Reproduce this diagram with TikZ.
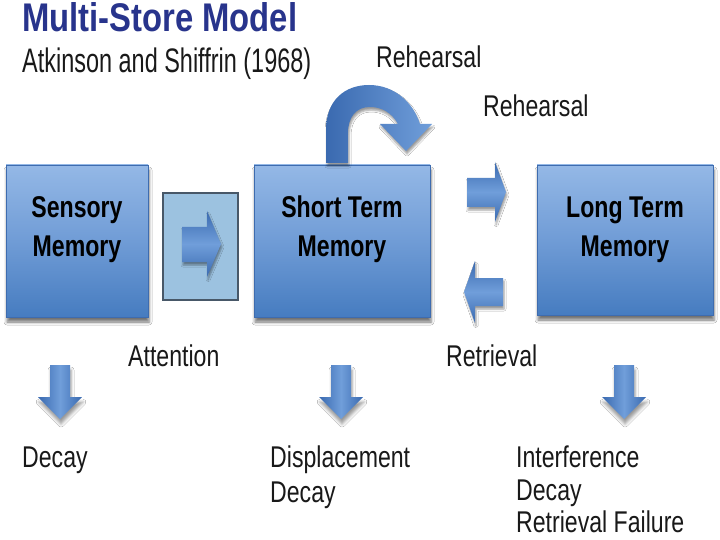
\documentclass[tikz,border=0pt]{standalone}
\usepackage{fontspec}
\setmainfont{Liberation Sans}
\usepackage{graphicx}
\usetikzlibrary{shadows,shadows.blur}
\definecolor{titleblue}{RGB}{40,52,140}
\definecolor{boxtop}{RGB}{148,184,230}
\definecolor{boxmid}{RGB}{112,156,214}
\definecolor{boxbot}{RGB}{70,124,192}
\definecolor{boxedge}{RGB}{62,108,175}
\definecolor{attfill}{RGB}{156,194,224}
\definecolor{attedge}{RGB}{72,88,104}
\definecolor{arrowdark}{RGB}{58,106,176}
\definecolor{arrowlight}{RGB}{112,158,218}
\definecolor{txt}{RGB}{25,25,25}
\newcommand{\nar}[1]{\scalebox{0.77}[1]{#1}}
\tikzset{
  membox/.style={draw=boxedge, line width=0.8pt, top color=boxtop, bottom color=boxbot, middle color=boxmid,
    inner sep=0, blur shadow={shadow xshift=1pt, shadow yshift=-5pt, shadow opacity=55, shadow blur radius=3pt}},
  attbox/.style={draw=attedge, line width=1.4pt, fill=attfill, inner sep=0},
  boxlbl/.style={anchor=base, inner sep=0, text=black, font=\bfseries\fontsize{30}{38.5}\selectfont},
  lbl/.style={anchor=base west, inner sep=0, text=txt, font=\fontsize{30}{36}\selectfont},
  harrow/.style={top color=arrowdark, bottom color=arrowdark, middle color=arrowlight,
    blur shadow={shadow xshift=1pt, shadow yshift=-3pt, shadow opacity=40, shadow blur radius=2pt}},
  varrow/.style={left color=arrowdark, right color=arrowdark, middle color=arrowlight,
    blur shadow={shadow xshift=1pt, shadow yshift=-5pt, shadow opacity=40, shadow blur radius=3pt}},
  carrow/.style={left color=arrowdark, right color=arrowlight,
    blur shadow={shadow xshift=1pt, shadow yshift=-3pt, shadow opacity=40, shadow blur radius=2pt}}
}
\begin{document}
\begin{tikzpicture}[x=1pt,y=-1pt]
\useasboundingbox (0,0) rectangle (720,540);
\fill[white] (0,0) rectangle (720,540);

% title
\node[anchor=base west, inner sep=0, font=\bfseries\fontsize{40}{40}\selectfont, text=titleblue] (title) at (22,32) {\scalebox{0.82}[1]{Multi-Store Model}};
\node[anchor=base west, inner sep=0, font=\fontsize{34}{40}\selectfont, text=txt] (subtitle) at (22,73) {\scalebox{0.69}[1]{Atkinson and Shiffrin (1968)}};

% boxes
\node[membox, minimum width=142pt, minimum height=152pt] (sm) at (77,241) {};
\node[membox, minimum width=176pt, minimum height=152pt] (stm) at (342,241) {};
\node[membox, minimum width=176pt, minimum height=150pt] (ltm) at (625,240) {};
\node[attbox, minimum width=75pt, minimum height=107pt] (att) at (200.5,246.5) {};

\node[boxlbl] (smtext) at (77,218) {\nar{\begin{tabular}[t]{@{}c@{}}Sensory\\Memory\end{tabular}}};
\node[boxlbl] (stmtext) at (342,218) {\nar{\begin{tabular}[t]{@{}c@{}}Short Term\\Memory\end{tabular}}};
\node[boxlbl] (ltmtext) at (625,218) {\nar{\begin{tabular}[t]{@{}c@{}}Long Term\\Memory\end{tabular}}};

% block arrows
\path[harrow] (182,227) -- (207,227) -- (207,211) -- (221,244) -- (207,277) -- (207,262) -- (182,262) -- cycle;
\path[harrow] (467,178) -- (495,178) -- (495,162) -- (506,192) -- (495,222) -- (495,207) -- (467,207) -- cycle;
\path[harrow] (503,278) -- (475,278) -- (475,261) -- (464,292) -- (475,323) -- (475,306) -- (503,306) -- cycle;

% rehearsal loop
\path[carrow] (326,163) -- (326,130) .. controls (326,100) and (345,85) .. (369,85)
  .. controls (394,85) and (413,102) .. (420,124) -- (432,124) -- (406,151) -- (380,124) -- (398,124)
  .. controls (392,113) and (382,107) .. (370,107) .. controls (356,107) and (348,117) .. (348,133)
  -- (348,163) -- cycle;

% down arrows
\foreach \c/\n in {60/d1,341/d2,624/d3}{
  \path[varrow] (\c-10,365) -- (\c+10,365) -- (\c+10,397) -- (\c+22,397) -- (\c,419) -- (\c-22,397) -- (\c-10,397) -- cycle;
}

% labels
\node[lbl] (reh1) at (376,68) {\nar{Rehearsal}};
\node[lbl] (reh2) at (483,117) {\nar{Rehearsal}};
\node[lbl] (attl) at (128,366) {\nar{Attention}};
\node[lbl] (retl) at (446,366) {\nar{Retrieval}};
\node[lbl] (o1) at (22,467) {\nar{Decay}};
\node[lbl] (o2a) at (270,467) {\nar{Displacement}};
\node[lbl] (o2b) at (270,502) {\nar{Decay}};
\node[lbl] (o3a) at (516,467) {\nar{Interference}};
\node[lbl] (o3b) at (516,500) {\nar{Decay}};
\node[lbl] (o3c) at (516,532) {\nar{Retrieval Failure}};
\end{tikzpicture}
\end{document}
